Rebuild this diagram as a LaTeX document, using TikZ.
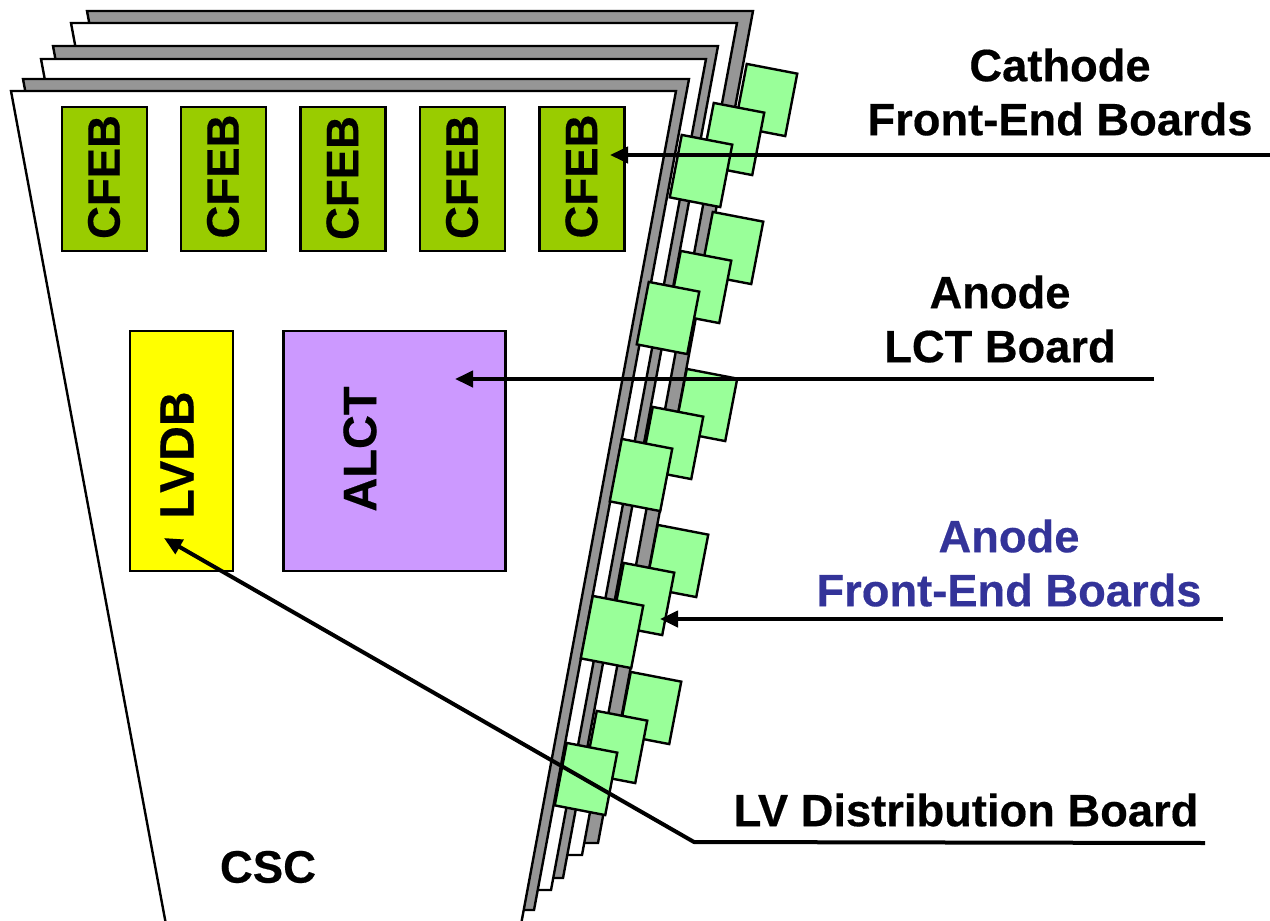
\documentclass[tikz,border=0pt]{standalone}
\usepackage{fontspec}
\setmainfont{Liberation Sans}[BoldFeatures={FakeBold=0.4}]
\usetikzlibrary{arrows.meta}
\definecolor{cfebgreen}{HTML}{99CC00}
\definecolor{layergray}{HTML}{969696}
\definecolor{afebgreen}{HTML}{99FF99}
\definecolor{alctviolet}{HTML}{CC99FF}
\definecolor{labelblue}{HTML}{333399}
\definecolor{lvyellow}{HTML}{FFFF00}
\tikzset{
  x=1pt,y=-1pt,
  outline/.style={draw=black,line width=2.4pt,line join=miter},
  graylayer/.style={outline,fill=layergray},
  whitelayer/.style={outline,fill=white},
  boxlabel/.style={font=\fontsize{45.5}{45.5}\selectfont\bfseries,text=black,inner sep=0pt},
  cfebbox/.style={outline,fill=cfebgreen,rotate=90,minimum width=144pt,minimum height=85pt,inner sep=0pt},
  afebbox/.style={outline,fill=afebgreen,rotate=-10.9,minimum width=51.4pt,minimum height=63.6pt,inner sep=0pt},
  caption/.style={font=\fontsize{45.3}{54}\selectfont\bfseries,align=center,inner sep=0pt},
  pointer/.style={line width=4pt,-{Triangle[length=18pt,width=16pt]}},
}
\begin{document}
\begin{tikzpicture}
\useasboundingbox (0,0) rectangle (1270,921);
\clip (0,0) rectangle (1270,921);
% stacked chamber layers, back to front
\draw[graylayer]  (87,11) -- (753,11) -- (598,843) -- (242,843) -- cycle;
\draw[whitelayer] (71,23) -- (737,23) -- (582,855) -- (226,855) -- cycle;
\draw[graylayer]  (53,46) -- (718,46) -- (563,878) -- (208,878) -- cycle;
\draw[whitelayer] (41,59) -- (706,59) -- (551,890) -- (196,890) -- cycle;
\draw[graylayer]  (23,79) -- (689,79) -- (534,910) -- (178,910) -- cycle;
\draw[whitelayer] (11,91) -- (676,91) -- (520,930) -- (167,930) -- cycle;
% anode front-end boards (position = centre of each board)
\foreach \n/\cx/\cy in {
  a1/766/100, a2/733/139, a3/701/171,
  b1/732/248, b2/700/287, b3/668/318,
  c1/706/405, c2/672/443, c3/641/475,
  d1/677/561, d2/643/599, d3/612/632,
  e1/650/708, e2/616/747, e3/586/779}
  \node[afebbox] (\n) at (\cx,\cy) {};
% boards on the chamber
\node[cfebbox] (cfeb1) at (104.5,179) {};
\node[cfebbox] (cfeb2) at (223.5,179) {};
\node[cfebbox] (cfeb3) at (343,179) {};
\node[cfebbox] (cfeb4) at (462.5,179) {};
\node[cfebbox] (cfeb5) at (582,179) {};
\node[boxlabel,rotate=90] (cfebtext1) at (104,177) {CFEB};
\node[boxlabel,rotate=90] (cfebtext2) at (223,176.5) {CFEB};
\node[boxlabel,rotate=90] (cfebtext3) at (342.5,178) {CFEB};
\node[boxlabel,rotate=90] (cfebtext4) at (462,177) {CFEB};
\node[boxlabel,rotate=90] (cfebtext5) at (581.5,176.5) {CFEB};
\node[outline,fill=lvyellow,minimum width=103pt,minimum height=240pt,inner sep=0pt] (lvdb) at (181.5,451) {};
\node[boxlabel,rotate=90,font=\fontsize{48}{48}\selectfont\bfseries] (lvdbtext) at (177,455) {LVDB};
\node[outline,fill=alctviolet,minimum width=222pt,minimum height=240pt,inner sep=0pt] (alct) at (394.5,451) {};
\node[boxlabel,rotate=90,font=\fontsize{47}{47}\selectfont\bfseries] (alcttext) at (360,449) {ALCT};
\node[boxlabel] (csc) at (268,867) {CSC};
% captions
\node[caption] (cathode) at (1060,92) {Cathode\\Front-End Boards};
\node[caption] (anode) at (1000,319) {Anode\\LCT Board};
\node[caption,text=labelblue] (afeb) at (1009,563) {Anode\\Front-End Boards};
\node[caption] (lvcap) at (966,810) {LV Distribution Board};
% connector ends
\coordinate (s1) at (1270,155);
\coordinate (t1) at (610,155);
\coordinate (s2) at (1154,379);
\coordinate (t2) at (455,379);
\coordinate (s3) at (1223,619);
\coordinate (t3) at (660,619);
\coordinate (s4) at (1205,843);
\coordinate (k4) at (694,842);
\coordinate (t4) at (164,538);
\draw[pointer] (s1) -- (t1);
\draw[pointer] (s2) -- (t2);
\draw[pointer] (s3) -- (t3);
\draw[pointer,line join=round] (s4) -- (k4) -- (t4);
\end{tikzpicture}
\end{document}
